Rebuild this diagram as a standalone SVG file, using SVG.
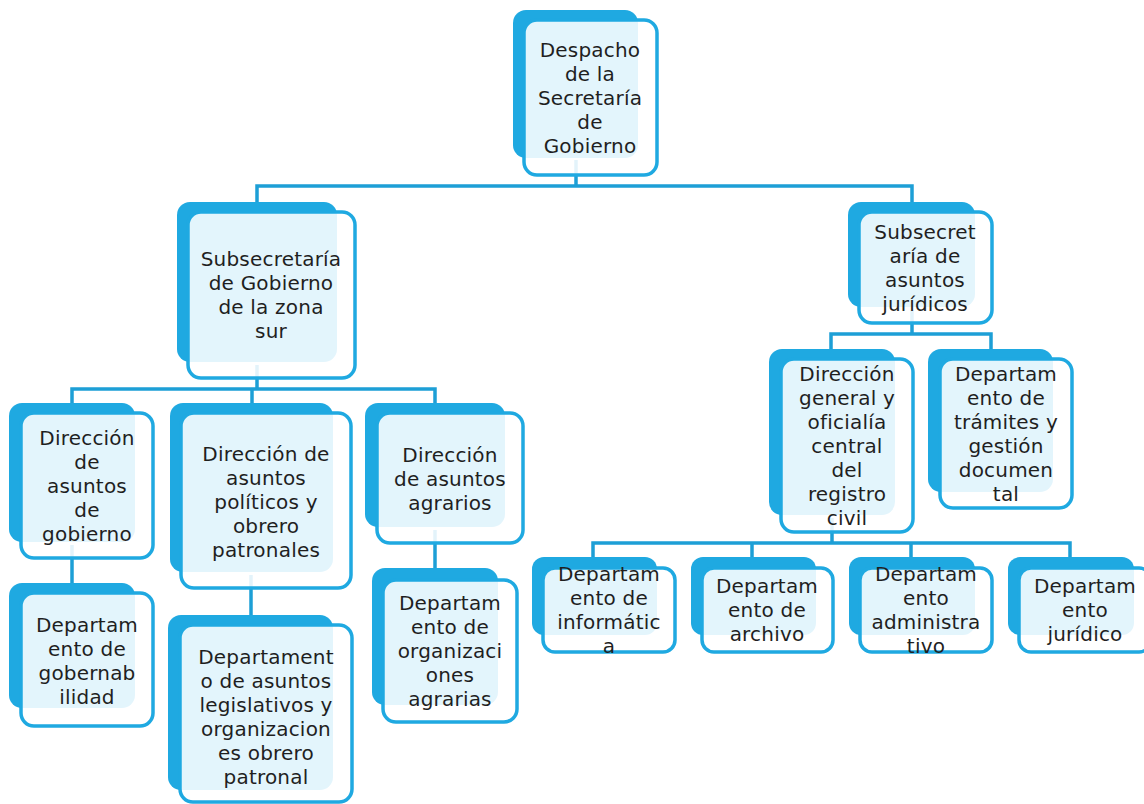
<svg xmlns="http://www.w3.org/2000/svg" width="1144" height="804" viewBox="0 0 1144 804">
<style>
.back{fill:#1fa9e1}
.front{fill:#ffffff;fill-opacity:0.88;stroke:#1fa9e1;stroke-width:3.5}
.conn{fill:none;stroke:#1d9fd6;stroke-width:3.5}
text{font-family:"DejaVu Sans","Liberation Sans",sans-serif;font-size:20px;letter-spacing:0.2px;fill:#1f1f1f;text-anchor:middle}
</style>
<rect width="1144" height="804" fill="#ffffff"/>
<g id="connectors">
<path class="conn" d="M576 160V186"/>
<path class="conn" d="M257 203V186H912V203"/>
<path class="conn" d="M257 365V389"/>
<path class="conn" d="M72 404V389H435V404"/>
<path class="conn" d="M252 389V404"/>
<path class="conn" d="M72 545V584"/>
<path class="conn" d="M251 575V616"/>
<path class="conn" d="M435 530V569"/>
<path class="conn" d="M912 310V334"/>
<path class="conn" d="M831 350V334H991V350"/>
<path class="conn" d="M832 518V543"/>
<path class="conn" d="M593 558V543H1070V558"/>
<path class="conn" d="M752 543V558"/>
<path class="conn" d="M911 543V558"/>
</g>
<g id="n-despacho">
<rect class="back" x="513" y="10" width="125" height="148" rx="13"/>
<rect class="front" x="524" y="20" width="133" height="155" rx="13"/>
<text x="590" y="57"><tspan x="590">Despacho</tspan><tspan x="590" dy="24">de la</tspan><tspan x="590" dy="24">Secretaría</tspan><tspan x="590" dy="24">de</tspan><tspan x="590" dy="24">Gobierno</tspan></text>
</g>
<g id="n-sub-sur">
<rect class="back" x="177" y="202" width="160" height="160" rx="13"/>
<rect class="front" x="188" y="212" width="167" height="166" rx="13"/>
<text x="271" y="266"><tspan x="271">Subsecretaría</tspan><tspan x="271" dy="24">de Gobierno</tspan><tspan x="271" dy="24">de la zona</tspan><tspan x="271" dy="24">sur</tspan></text>
</g>
<g id="n-sub-juridicos">
<rect class="back" x="848" y="202" width="127" height="105" rx="13"/>
<rect class="front" x="859" y="212" width="133" height="111" rx="13"/>
<text x="925" y="239"><tspan x="925">Subsecret</tspan><tspan x="925" dy="24">aría de</tspan><tspan x="925" dy="24">asuntos</tspan><tspan x="925" dy="24">jurídicos</tspan></text>
</g>
<g id="n-dir-gobierno">
<rect class="back" x="9" y="403" width="126" height="139" rx="13"/>
<rect class="front" x="21" y="413" width="132" height="145" rx="13"/>
<text x="87" y="445"><tspan x="87">Dirección</tspan><tspan x="87" dy="24">de</tspan><tspan x="87" dy="24">asuntos</tspan><tspan x="87" dy="24">de</tspan><tspan x="87" dy="24">gobierno</tspan></text>
</g>
<g id="n-dir-politicos">
<rect class="back" x="170" y="403" width="163" height="169" rx="13"/>
<rect class="front" x="181" y="413" width="170" height="175" rx="13"/>
<text x="266" y="461"><tspan x="266">Dirección de</tspan><tspan x="266" dy="24">asuntos</tspan><tspan x="266" dy="24">políticos y</tspan><tspan x="266" dy="24">obrero</tspan><tspan x="266" dy="24">patronales</tspan></text>
</g>
<g id="n-dir-agrarios">
<rect class="back" x="365" y="403" width="140" height="124" rx="13"/>
<rect class="front" x="377" y="413" width="146" height="130" rx="13"/>
<text x="450" y="462"><tspan x="450">Dirección</tspan><tspan x="450" dy="24">de asuntos</tspan><tspan x="450" dy="24">agrarios</tspan></text>
</g>
<g id="n-dep-gobernabilidad">
<rect class="back" x="9" y="583" width="126" height="125" rx="13"/>
<rect class="front" x="21" y="593" width="132" height="133" rx="13"/>
<text x="87" y="632"><tspan x="87">Departam</tspan><tspan x="87" dy="24">ento de</tspan><tspan x="87" dy="24">gobernab</tspan><tspan x="87" dy="24">ilidad</tspan></text>
</g>
<g id="n-dep-legislativos">
<rect class="back" x="168" y="615" width="165" height="175" rx="13"/>
<rect class="front" x="180" y="625" width="172" height="177" rx="13"/>
<text x="266" y="664"><tspan x="266">Departament</tspan><tspan x="266" dy="24">o de asuntos</tspan><tspan x="266" dy="24">legislativos y</tspan><tspan x="266" dy="24">organizacion</tspan><tspan x="266" dy="24">es obrero</tspan><tspan x="266" dy="24">patronal</tspan></text>
</g>
<g id="n-dep-org-agrarias">
<rect class="back" x="372" y="568" width="126" height="137" rx="13"/>
<rect class="front" x="383" y="580" width="134" height="142" rx="13"/>
<text x="450" y="610"><tspan x="450">Departam</tspan><tspan x="450" dy="24">ento de</tspan><tspan x="450" dy="24">organizaci</tspan><tspan x="450" dy="24">ones</tspan><tspan x="450" dy="24">agrarias</tspan></text>
</g>
<g id="n-dir-registro">
<rect class="back" x="769" y="349" width="126" height="166" rx="13"/>
<rect class="front" x="781" y="359" width="132" height="173" rx="13"/>
<text x="847" y="381"><tspan x="847">Dirección</tspan><tspan x="847" dy="24">general y</tspan><tspan x="847" dy="24">oficialía</tspan><tspan x="847" dy="24">central</tspan><tspan x="847" dy="24">del</tspan><tspan x="847" dy="24">registro</tspan><tspan x="847" dy="24">civil</tspan></text>
</g>
<g id="n-dep-tramites">
<rect class="back" x="928" y="349" width="125" height="143" rx="13"/>
<rect class="front" x="940" y="359" width="132" height="149" rx="13"/>
<text x="1006" y="381"><tspan x="1006">Departam</tspan><tspan x="1006" dy="24">ento de</tspan><tspan x="1006" dy="24">trámites y</tspan><tspan x="1006" dy="24">gestión</tspan><tspan x="1006" dy="24">documen</tspan><tspan x="1006" dy="24">tal</tspan></text>
</g>
<g id="n-dep-informatica">
<rect class="back" x="532" y="557" width="125" height="78" rx="12"/>
<rect class="front" x="543" y="568" width="132" height="84" rx="12"/>
<text x="609" y="581"><tspan x="609">Departam</tspan><tspan x="609" dy="24">ento de</tspan><tspan x="609" dy="24">informátic</tspan><tspan x="609" dy="24">a</tspan></text>
</g>
<g id="n-dep-archivo">
<rect class="back" x="691" y="557" width="125" height="78" rx="12"/>
<rect class="front" x="702" y="568" width="131" height="84" rx="12"/>
<text x="767" y="593"><tspan x="767">Departam</tspan><tspan x="767" dy="24">ento de</tspan><tspan x="767" dy="24">archivo</tspan></text>
</g>
<g id="n-dep-administrativo">
<rect class="back" x="849" y="557" width="126" height="78" rx="12"/>
<rect class="front" x="860" y="568" width="132" height="84" rx="12"/>
<text x="926" y="581"><tspan x="926">Departam</tspan><tspan x="926" dy="24">ento</tspan><tspan x="926" dy="24">administra</tspan><tspan x="926" dy="24">tivo</tspan></text>
</g>
<g id="n-dep-juridico">
<rect class="back" x="1008" y="557" width="126" height="78" rx="12"/>
<rect class="front" x="1019" y="568" width="132" height="84" rx="12"/>
<text x="1085" y="593"><tspan x="1085">Departam</tspan><tspan x="1085" dy="24">ento</tspan><tspan x="1085" dy="24">jurídico</tspan></text>
</g>
</svg>
